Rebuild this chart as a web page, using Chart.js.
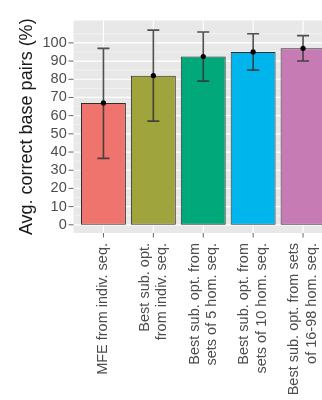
<!DOCTYPE html>
<html>
<head>
<meta charset="utf-8">
<script src="https://cdn.jsdelivr.net/npm/chart.js@4/dist/chart.umd.min.js"></script>
<style>
  html, body { margin: 0; padding: 0; background: #fff; overflow: hidden; }
  #wrap { width: 322px; height: 400px; overflow: hidden; }
  canvas { display: block; }
</style>
</head>
<body>
<div id="wrap"><canvas id="c" width="350" height="400"></canvas></div>
<script>
// Categories (multi-line axis labels)
const categories = [
  "MFE from indiv. seq.",
  ["Best sub. opt.", "from indiv. seq."],
  ["Best sub. opt. from", "sets of 5 hom. seq."],
  ["Best sub. opt. from", "sets of 10 hom. seq."],
  ["Best sub. opt. from sets", "of 16-98 hom. seq."]
];
// Average correct base pairs (%) and error-bar limits
const means   = [67, 82, 92.5, 95, 97];
const errLow  = [36.5, 57, 79, 85, 90];
const errHigh = [97, 107, 106, 105, 104];
// Bar fill colours
const barColors = ["#F0746E", "#A0A43C", "#00A87A", "#00B4EC", "#C77BB5"];
// Y axis breaks
const yTicks = [0, 10, 20, 30, 40, 50, 60, 70, 80, 90, 100];
const yMinor = [5, 15, 25, 35, 45, 55, 65, 75, 85, 95, 105];

const FONT = "'Liberation Sans', Arial, Helvetica, sans-serif";
const X_FONT_SIZE = 14.5;
const X_LINE_HEIGHT = 1.2;

// Grey panel, white grid lines, outside tick marks and error bars
const panelPlugin = {
  id: 'panel',
  beforeDraw(chart) {
    // centre multi-line category labels on their tick
    const x = chart.scales.x;
    const items = x.getLabelItems(chart.chartArea);
    const lh = X_FONT_SIZE * X_LINE_HEIGHT;
    items.forEach(it => {
      const n = Array.isArray(it.label) ? it.label.length : 1;
      if (n > 1 && !it._centred) {
        it.options.translation[0] -= (n - 1) * lh / 2;
        it._centred = true;
      }
    });
  },
  beforeDatasetsDraw(chart) {
    const { ctx, chartArea: a, scales: { x, y } } = chart;
    const step = a.width / categories.length;
    const left = a.left - 0.1 * step;
    const right = a.right + 0.1 * step;
    ctx.save();
    ctx.fillStyle = '#E8E8E8';
    ctx.fillRect(left, a.top, right - left, a.bottom - a.top);
    ctx.strokeStyle = '#F6F6F6';
    ctx.lineWidth = 0.7;
    yMinor.forEach(v => {
      const py = y.getPixelForValue(v);
      ctx.beginPath(); ctx.moveTo(left, py); ctx.lineTo(right, py); ctx.stroke();
    });
    ctx.strokeStyle = '#FFFFFF';
    ctx.lineWidth = 1.2;
    yTicks.forEach(v => {
      const py = y.getPixelForValue(v);
      ctx.beginPath(); ctx.moveTo(left, py); ctx.lineTo(right, py); ctx.stroke();
    });
    categories.forEach((c, i) => {
      const px = x.getPixelForValue(i);
      ctx.beginPath(); ctx.moveTo(px, a.top); ctx.lineTo(px, a.bottom); ctx.stroke();
    });
    // tick marks
    ctx.strokeStyle = '#666';
    ctx.lineWidth = 1;
    yTicks.forEach(v => {
      const py = y.getPixelForValue(v);
      ctx.beginPath(); ctx.moveTo(left - 5, py); ctx.lineTo(left, py); ctx.stroke();
    });
    categories.forEach((c, i) => {
      const px = x.getPixelForValue(i);
      ctx.beginPath(); ctx.moveTo(px, a.bottom); ctx.lineTo(px, a.bottom + 4.5); ctx.stroke();
    });
    ctx.restore();
  },
  afterDatasetDraw(chart, args) {
    if (args.index !== 0) return;
    const { ctx, scales: { x, y } } = chart;
    ctx.save();
    ctx.strokeStyle = 'rgba(50,50,50,0.85)';
    ctx.lineWidth = 1.6;
    means.forEach((m, i) => {
      const px = x.getPixelForValue(i);
      const yl = y.getPixelForValue(errLow[i]);
      const yh = y.getPixelForValue(errHigh[i]);
      ctx.beginPath();
      ctx.moveTo(px, yl); ctx.lineTo(px, yh);
      ctx.moveTo(px - 6, yl); ctx.lineTo(px + 6, yl);
      ctx.moveTo(px - 6, yh); ctx.lineTo(px + 6, yh);
      ctx.stroke();
    });
    ctx.restore();
  }
};

new Chart(document.getElementById('c'), {
  type: 'bar',
  data: {
    labels: categories,
    datasets: [
      {
        data: means,
        backgroundColor: barColors,
        borderColor: '#2E2E2E',
        borderWidth: 1,
        borderSkipped: false,
        barPercentage: 0.9,
        categoryPercentage: 1,
        order: 2
      },
      {
        type: 'line',
        data: means,
        showLine: false,
        pointRadius: 2.6,
        pointBackgroundColor: '#000',
        pointBorderColor: '#000',
        pointBorderWidth: 0,
        order: 1
      }
    ]
  },
  options: {
    responsive: false,
    animation: false,
    layout: { padding: { top: 15, right: 21.5, left: 0, bottom: 0 } },
    plugins: { legend: { display: false }, tooltip: { enabled: false } },
    scales: {
      x: {
        offset: true,
        grid: { display: false, drawTicks: false },
        border: { display: false },
        ticks: {
          autoSkip: false,
          minRotation: 90,
          maxRotation: 90,
          padding: 10,
          color: '#4D4D4D',
          font: { family: FONT, size: X_FONT_SIZE, lineHeight: X_LINE_HEIGHT }
        },
        afterFit: s => { s.height = 167; }
      },
      y: {
        min: -4.5,
        max: 112.3,
        afterBuildTicks: s => { s.ticks = yTicks.map(v => ({ value: v })); },
        grid: { display: false, drawTicks: false },
        border: { display: false },
        ticks: {
          padding: 11.8,
          color: '#4D4D4D',
          font: { family: FONT, size: 14.5 }
        },
        title: {
          display: true,
          text: 'Avg. correct base pairs (%)',
          color: '#1A1A1A',
          font: { family: FONT, size: 18 },
          padding: { top: 16, bottom: 0 }
        },
        afterFit: s => { s.width = 78.5; }
      }
    }
  },
  plugins: [panelPlugin]
});
</script>
</body>
</html>
